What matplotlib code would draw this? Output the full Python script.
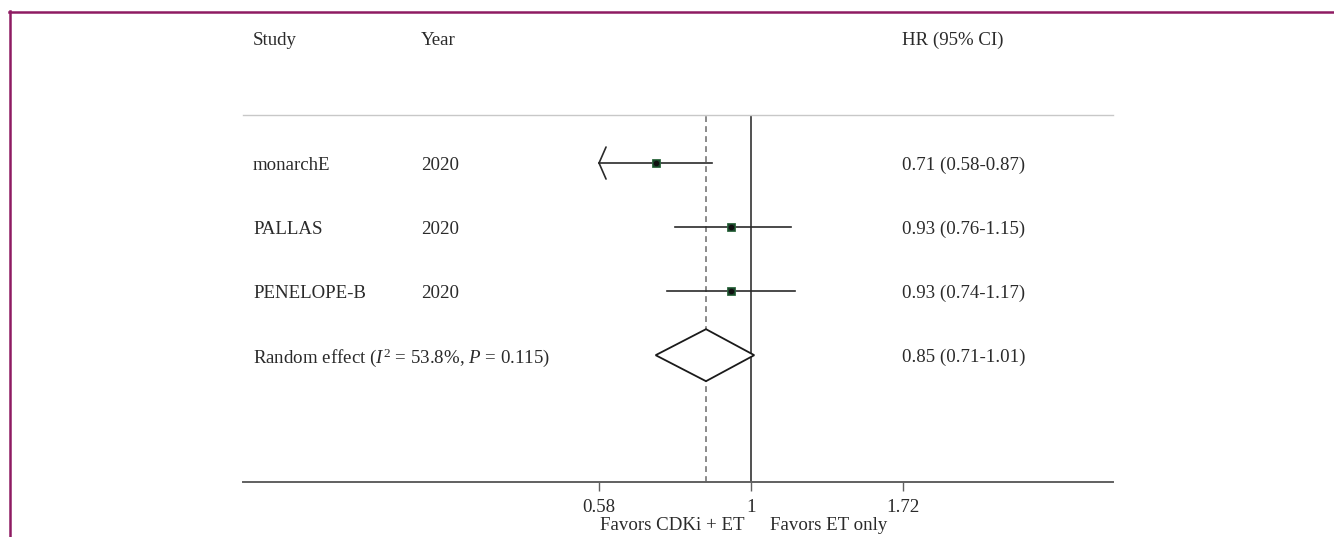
import numpy as np
import matplotlib
matplotlib.use("Agg")
import matplotlib.pyplot as plt
from matplotlib.ticker import NullLocator, FixedLocator, FixedFormatter
from matplotlib.lines import Line2D

# ---- data ----
studies = ["monarchE", "PALLAS", "PENELOPE-B"]
years = ["2020", "2020", "2020"]
hr = [0.71, 0.93, 0.93]
ci_lo = [0.58, 0.76, 0.74]
ci_hi = [0.87, 1.15, 1.17]
pooled_label = "Random effect ($\\mathit{I}^2$ = 53.8%, $\\mathit{P}$ = 0.115)"
pooled_hr = 0.85
pooled_lo = 0.71
pooled_hi = 1.01
tick_vals = [0.58, 1, 1.72]
tick_labels = ["0.58", "1", "1.72"]
xlim = (0.1625, 3.64)

plt.rcParams['font.family'] = ['Liberation Serif', 'DejaVu Serif']
plt.rcParams['mathtext.fontset'] = 'custom'
plt.rcParams['mathtext.rm'] = 'Liberation Serif'
plt.rcParams['mathtext.it'] = 'Liberation Serif:italic'

W, H = 1334, 537
fig = plt.figure(figsize=(W / 100, H / 100), dpi=100)
ax = fig.add_axes([243 / W, 1 - 482 / H, 870 / W, (482 - 115) / H])

txt = '#2a2a2a'
fs = 13.6

ax.set_xscale('log')
ax.set_xlim(*xlim)
ax.set_ylim(5.98, 0.25)
ax.xaxis.set_minor_locator(NullLocator())
ax.xaxis.set_major_locator(FixedLocator(tick_vals))
ax.xaxis.set_major_formatter(FixedFormatter(tick_labels))
ax.set_yticks([])
for s in ['left', 'right']:
    ax.spines[s].set_visible(False)
ax.spines['top'].set_color('#c8c8c8')
ax.spines['top'].set_linewidth(1.0)
ax.spines['bottom'].set_color('#606060')
ax.spines['bottom'].set_linewidth(1.4)
ax.tick_params(axis='x', direction='out', length=6.5, width=1.0, color='#606060',
               labelsize=fs, labelcolor=txt, pad=6)

# reference lines
ax.axvline(1, color='#222222', lw=1.1, zorder=1)
ax.axvline(pooled_hr, color='#777777', lw=1.2, ls=(0, (3.5, 2.5)), zorder=1)

rows = np.arange(1, len(studies) + 1)
yt = ax.get_yaxis_transform()
val_x = 0.758
toff = 0.04
for i, r in enumerate(rows):
    lo = max(ci_lo[i], tick_vals[0])
    ax.plot([lo, ci_hi[i]], [r, r], color='#2a2a2a', lw=1.2, zorder=2)
    ax.plot(hr[i], r, marker='s', ms=6, mfc='#1b4a2c', mec='#2f6a40', mew=0.6, zorder=3)
    ax.plot(hr[i], r, marker='o', ms=3, color='#111111', zorder=4)
    if ci_lo[i] <= tick_vals[0]:
        for dy in (-16, 16):
            ax.annotate('', xy=(lo, r), xytext=(7, dy), textcoords='offset pixels',
                        arrowprops=dict(arrowstyle='-', color='#2a2a2a', lw=1.2,
                                        shrinkA=0, shrinkB=0))
    ax.text(0.0115, r + toff, studies[i], transform=yt, va='center', ha='left', fontsize=fs, color=txt)
    ax.text(0.2048, r + toff, years[i], transform=yt, va='center', ha='left', fontsize=fs, color=txt)
    ax.text(val_x, r + toff, f"{hr[i]:.2f} ({ci_lo[i]:.2f}-{ci_hi[i]:.2f})",
            transform=yt, va='center', ha='left', fontsize=fs, color=txt)

pr = len(studies) + 1
dh = 0.406
ax.fill([pooled_lo, pooled_hr, pooled_hi, pooled_hr], [pr, pr - dh, pr, pr + dh],
        facecolor='white', edgecolor='#1a1a1a', lw=1.3, zorder=3)
ax.text(0.0115, pr + toff, pooled_label, transform=yt, va='center', ha='left', fontsize=fs, color=txt)
ax.text(val_x, pr + toff, f"{pooled_hr:.2f} ({pooled_lo:.2f}-{pooled_hi:.2f})",
        transform=yt, va='center', ha='left', fontsize=fs, color=txt)

# headers
hy = -0.92
ax.text(0.0115, hy, "Study", transform=yt, va='center', ha='left', fontsize=fs, color=txt)
ax.text(0.2048, hy, "Year", transform=yt, va='center', ha='left', fontsize=fs, color=txt)
ax.text(val_x, hy, "HR (95% CI)", transform=yt, va='center', ha='left', fontsize=fs, color=txt)

# favors labels
fig.text(745 / W, 1 - 526 / H, "Favors CDKi + ET", ha='right', va='center', fontsize=fs, color=txt)
fig.text(770 / W, 1 - 526 / H, "Favors ET only", ha='left', va='center', fontsize=fs, color=txt)

# frame (top and left edges, cropped)
frame_c = '#8e1b62'
fig.add_artist(Line2D([9 / W, 1], [1 - 11.5 / H, 1 - 11.5 / H], color=frame_c, lw=1.8,
                      transform=fig.transFigure))
fig.add_artist(Line2D([10 / W, 10 / W], [0, 1 - 11 / H], color=frame_c, lw=1.8,
                      transform=fig.transFigure))

fig.savefig("out.png", dpi=100, facecolor='white')
